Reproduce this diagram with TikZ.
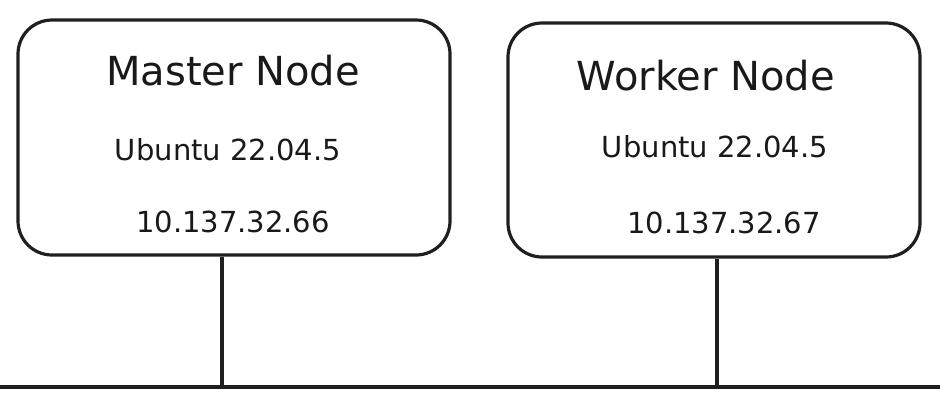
\documentclass[tikz,border=0pt]{standalone}
\usepackage{fontspec}
\setmainfont{DejaVu Sans}
\begin{document}
\begin{tikzpicture}[x=1pt,y=-1pt,
  hostbox/.style={draw=black!88, line width=3.2pt, rounded corners=34pt, inner sep=0pt},
  title/.style={anchor=base, font=\fontsize{40}{44}\selectfont, text=black!90},
  info/.style={anchor=base, font=\fontsize{29}{32}\selectfont, text=black!90},
  wire/.style={draw=black!88, line width=3.2pt},
  bus/.style={draw=black!88, line width=4.4pt}]
\useasboundingbox (0,0) rectangle (940,408);
% boxes
\node[hostbox, minimum width=432pt, minimum height=235pt] (mbox) at (234,137.5) {};
\node[hostbox, minimum width=412pt, minimum height=234pt] (wbox) at (714,140) {};
% texts
\node[title] (mtitle) at (233,85) {Master Node};
\node[info] (mos) at (228,160) {Ubuntu 22.04.5};
\node[info] (mip) at (233,232) {10.137.32.66};
\node[title] (wtitle) at (706,90) {Worker Node};
\node[info] (wos) at (715,157) {Ubuntu 22.04.5};
\node[info] (wip) at (724,233) {10.137.32.67};
% bus
\coordinate (busL) at (0,387);
\coordinate (busR) at (940,387);
\coordinate (mtap) at (222,387);
\coordinate (wtap) at (717,387);
\draw[bus] (busL) -- (busR);
\draw[wire] (mbox.south -| mtap) -- (mtap);
\draw[wire] (wbox.south -| wtap) -- (wtap);
\end{tikzpicture}
\end{document}
